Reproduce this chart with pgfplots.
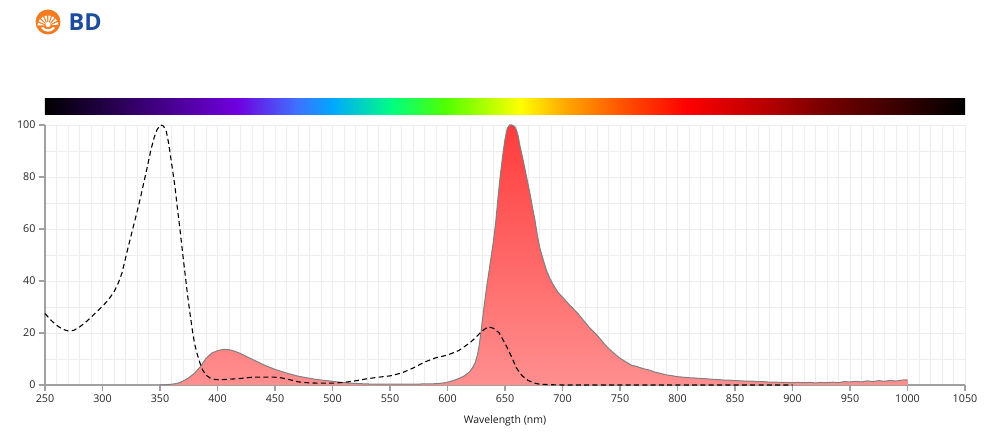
\documentclass[border=0pt]{standalone}
\usepackage{fontspec}
\setmainfont{Open Sans}
\usepackage{pgfplots}
\usepackage{pgfplotstable}
\pgfplotsset{compat=1.18}

\definecolor{gridc}{HTML}{EDEDED}
\definecolor{axisc}{HTML}{A0A0A0}
\definecolor{emtop}{HTML}{FF3C3C}
\definecolor{embot}{HTML}{FF8F8F}
\definecolor{emedge}{HTML}{808080}
\definecolor{bdorange}{HTML}{F47B20}
\definecolor{bdblue}{HTML}{1E4D9B}
\definecolor{sp1}{HTML}{7000E0}
\definecolor{sp2}{HTML}{4070FF}
\definecolor{sp3}{HTML}{00A8FF}
\definecolor{sp4}{HTML}{00FF80}
\definecolor{sp5}{HTML}{50FF00}
\definecolor{sp6}{HTML}{FFFF00}
\definecolor{sp7}{HTML}{FFA800}
\definecolor{sp8}{HTML}{FF5000}
\definecolor{sp9}{HTML}{FF0000}
\definecolor{sp10}{HTML}{B00000}
\definecolor{sp11}{HTML}{800000}

% excitation (dashed)
\pgfplotstableread{
x y
250 27.5
255 25
260 23
265 21.5
270 20.8
275 21
280 22.3
285 24
290 26
295 28.2
300 30.3
305 32.7
310 35.8
314 39.5
317 43.2
321 50.6
324 56
327 61.3
330 66.5
333 72
336 78
339 84
342 90.3
345 95.3
347.5 98.3
350.5 100
353 99.6
355.5 97.5
357.5 93
359 88.5
361 82.5
363 76.3
365 68.5
367.5 59.3
370 49.5
372 42
374 34.5
376 27.8
378 21.5
380 16
382 12.4
384.8 8.4
387 5.8
390 3.8
393.5 2.7
398 2.1
402 2.0
410 2.2
420 2.5
430 3.0
440 3.0
450 3.0
455 2.8
460 2.3
465 1.8
470 1.2
480 0.8
490 0.7
500 0.7
510 1.0
520 1.6
530 2.4
540 3.0
550 3.5
560 4.6
570 6.5
580 8.8
590 10.5
600 11.5
610 13.3
620 16.4
625 18.5
630 20.8
635.5 22.4
640 21.8
645 20
650 16
655 11.5
660 6.5
665 3.5
670 1.8
675 0.8
680 0.3
690 0.1
700 0
750 0
800 0
850 0
900 0
}\excit

% emission (filled)
\pgfplotstableread{
x y
350 0
355 0.1
360 0.3
365 0.6
370 1.5
375 2.8
380 4.5
385 7
390 10.2
395 12.3
400 13.2
405 13.7
410 13.6
415 13
420 12.1
425 11
430 9.9
435 8.9
440 7.8
445 6.9
450 6.0
455 5.3
460 4.6
465 4.0
470 3.4
475 3.0
480 2.6
485 2.2
490 1.9
495 1.7
500 1.4
510 0.9
520 0.6
530 0.4
540 0.3
560 0.3
580 0.4
590 0.5
597 0.8
602 1.3
607 2.0
611 2.7
615 3.6
619 5.0
622 6.8
624 8.5
626 11.5
627.5 15
629 20
630.5 25.5
632 31
634 37.5
637 46.5
640 55.5
642 63
644 72.5
646 81
648.5 90
650 94.5
652 98.8
654 100
656 100
658.5 99.4
660 98
661.6 95.5
663 92
666 86
669 79.5
672 73
674 68
676 63.5
678 58
680 53.2
683 48.5
686 44.2
689 41
692 38.5
696 35.7
701 33.3
705 31.3
709 29.5
714 27.2
718 25
724 21.8
730 19.2
735 16.5
740 14.1
745 12.1
750 10.3
755 8.9
760 7.6
765 7.1
770 6.3
775 5.8
780 5.0
785 4.5
790 3.9
795 3.6
800 3.2
805 3.0
810 2.8
815 2.7
820 2.5
825 2.4
830 2.2
835 2.1
840 1.9
845 1.9
850 1.7
855 1.6
860 1.5
865 1.5
870 1.3
875 1.3
880 1.1
885 1.1
890 1.0
895 1.0
900 0.9
905 1.0
910 0.9
915 1.0
920 0.8
925 1.0
930 0.9
935 1.1
940 0.9
945 1.3
950 1.2
955 1.4
960 1.2
965 1.6
970 1.3
975 1.7
980 1.4
985 1.8
990 1.5
995 1.9
1000 2.0
}\emis

\begin{document}
\begin{tikzpicture}
\path[use as bounding box] (0,0) rectangle (990bp,435bp);
\begin{axis}[
  at={(45bp,50bp)}, anchor=south west,
  scale only axis, width=920bp, height=260bp,
  xmin=250, xmax=1050, ymin=0, ymax=100,
  xtick distance=50, ytick distance=20,
  minor x tick num=4, minor y tick num=1,
  grid=both,
  major grid style={draw=gridc, line width=0.8bp},
  minor grid style={draw=gridc, line width=0.8bp},
  axis lines*=left,
  axis line style={draw=axisc, line width=2bp},
  tick align=outside,
  major tick length=6bp, minor tick length=0pt,
  major tick style={draw=axisc, line width=1.5bp},
  ticklabel style={font=\fontsize{10.8}{12}\selectfont, text=black!85},
  /pgf/number format/assume math mode=true,
  /pgf/number format/1000 sep={},
  xlabel={Wavelength (nm)},
  xlabel style={font=\fontsize{10.5}{12}\selectfont, text=black!90,
    at={(axis description cs:0.5,0)}, anchor=center, yshift=-36bp},
  clip=false,
]
\addplot[draw=none, top color=emtop, bottom color=embot] table[x=x,y=y] {\emis} \closedcycle;
\addplot[draw=emedge, line width=1bp] table[x=x,y=y] {\emis};
\addplot[black, line width=1.1bp, dash pattern=on 5bp off 3.3bp] table[x=x,y=y] {\excit};

\shade[left color=black, right color=sp1] (axis cs:250,104.2) rectangle (axis cs:417.5,110);
\shade[left color=sp1, right color=sp2] (axis cs:417,104.2) rectangle (axis cs:468.5,110);
\shade[left color=sp2, right color=sp3] (axis cs:468,104.2) rectangle (axis cs:500.5,110);
\shade[left color=sp3, right color=sp4] (axis cs:500,104.2) rectangle (axis cs:552.5,110);
\shade[left color=sp4, right color=sp5] (axis cs:552,104.2) rectangle (axis cs:598.5,110);
\shade[left color=sp5, right color=sp6] (axis cs:598,104.2) rectangle (axis cs:663.5,110);
\shade[left color=sp6, right color=sp7] (axis cs:663,104.2) rectangle (axis cs:702.5,110);
\shade[left color=sp7, right color=sp8] (axis cs:702,104.2) rectangle (axis cs:753.5,110);
\shade[left color=sp8, right color=sp9] (axis cs:753,104.2) rectangle (axis cs:808.5,110);
\shade[left color=sp9, right color=sp10] (axis cs:808,104.2) rectangle (axis cs:883.5,110);
\shade[left color=sp10, right color=sp11] (axis cs:883,104.2) rectangle (axis cs:920.5,110);
\shade[left color=sp11, right color=black] (axis cs:920,104.2) rectangle (axis cs:1050,110);
\end{axis}

% logo
\fill[bdorange] (48bp,413bp) circle (12.5bp);
\begin{scope}[shift={(48bp,409bp)}]
  \foreach \a in {15,37,...,170}
    \fill[white] (\a-2:3.5bp) -- (\a-7:10.5bp) -- (\a+7:10.5bp) -- (\a+2:3.5bp) -- cycle;
  \fill[white] (0,1.5bp) circle (2.6bp);
  \fill[white] (-7bp,-2bp) .. controls (-3bp,-7bp) and (3bp,-7bp) .. (7bp,-2bp)
    -- (5bp,-1bp) .. controls (2bp,-4bp) and (-2bp,-4bp) .. (-5bp,-1bp) -- cycle;
\end{scope}
\node[anchor=west, inner sep=0pt, text=bdblue, font=\fontsize{23.5}{25}\selectfont\bfseries] at (68.5bp,413bp) {BD};
\end{tikzpicture}
\end{document}
